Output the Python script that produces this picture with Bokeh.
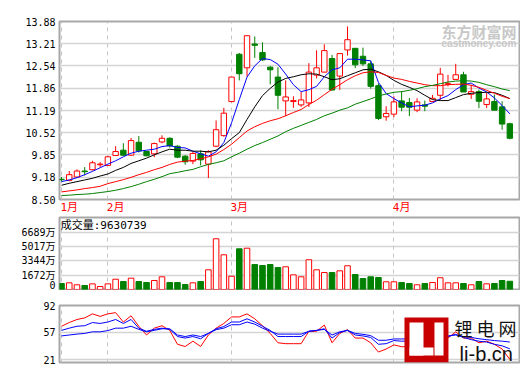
from bokeh.plotting import figure
from bokeh.layouts import column
from bokeh.models import FixedTicker, Label, Range1d, NumeralTickFormatter
from bokeh.embed import file_html
from bokeh.resources import INLINE

# ---------------- data ----------------
title_text = "沧州明珠[002108] 2014-04-23"
vol_header = "成交量:9630739"
month_ticks = [1, 7, 23, 44]
month_labels = ["1月", "2月", "3月", "4月"]
month_grid = [0, 6, 22, 43]
price_ticks = [8.50, 9.18, 9.85, 10.52, 11.19, 11.86, 12.54, 13.21, 13.88]
vol_ticks = [0, 1672, 3344, 5017, 6689]
vol_labels = ["0", "1672万", "3344万", "5017万", "6689万"]
rsi_ticks = [21, 57, 92]
ma_names = ["5PMA", "10PMA", "20PMA", "30PMA"]
ma_colors = ["#0000ff", "#000000", "#ff0000", "#008000"]
rsi_names = ["RSI_A:21", "RSI_B:35", "RSI_C:44"]
rsi_colors = ["#ff0000", "#0000ff", "#0000ff"]

open_ = [9.11, 9.08, 9.18, 9.36, 9.40, 9.55, 9.53, 9.83, 9.99, 9.84,
         10.23, 9.95, 9.88, 10.24, 10.35, 10.11, 9.81, 9.66, 9.88, 9.57,
         10.11, 10.43, 11.46, 12.89, 12.48, 13.20, 12.94, 12.50, 12.20, 11.48,
         11.46, 11.36, 11.42, 12.26, 12.35, 12.76, 12.23, 13.02, 13.07, 12.83,
         12.60, 11.94, 11.00, 11.08, 11.48, 11.43, 11.20, 11.36, 11.46, 11.65,
         11.98, 12.13, 12.27, 11.68, 11.76, 11.37, 11.46, 11.30, 10.79]
high = [9.18, 9.36, 9.41, 9.48, 9.67, 9.63, 9.82, 10.11, 10.20, 10.36,
        10.42, 9.97, 10.22, 10.44, 10.38, 10.14, 9.84, 9.94, 9.99, 9.99,
        10.89, 11.27, 12.20, 12.93, 13.45, 13.43, 13.25, 12.53, 12.50, 12.10,
        11.62, 11.75, 12.62, 13.01, 13.19, 12.87, 12.91, 13.73, 13.07, 13.09,
        12.70, 12.01, 11.32, 11.62, 11.77, 11.57, 11.56, 11.49, 11.66, 12.48,
        12.27, 12.60, 12.36, 11.97, 11.82, 11.72, 11.67, 11.47, 10.82]
low = [9.05, 9.05, 9.15, 9.23, 9.38, 9.48, 9.51, 9.83, 9.82, 9.82,
       9.92, 9.81, 9.78, 10.20, 10.07, 9.75, 9.55, 9.57, 9.53, 9.15,
       10.08, 10.40, 11.44, 12.10, 12.22, 12.78, 12.69, 11.98, 11.23, 11.02,
       11.27, 11.30, 11.30, 12.16, 12.35, 11.79, 11.81, 12.85, 12.47, 12.54,
       11.85, 10.90, 10.88, 10.99, 11.17, 11.02, 11.14, 11.17, 11.46, 11.50,
       11.92, 12.13, 11.75, 11.54, 11.26, 11.26, 11.20, 10.61, 10.32]
close = [9.10, 9.25, 9.36, 9.34, 9.61, 9.57, 9.79, 9.95, 9.84, 10.28,
         9.97, 9.82, 10.19, 10.35, 10.12, 9.78, 9.64, 9.89, 9.70, 9.94,
         10.61, 11.11, 12.20, 12.30, 13.45, 13.16, 12.72, 12.42, 11.65, 11.60,
         11.49, 11.51, 12.35, 12.48, 13.00, 11.81, 12.91, 13.33, 12.57, 12.60,
         11.92, 10.95, 11.10, 11.45, 11.29, 11.29, 11.45, 11.32, 11.56, 12.29,
         12.00, 12.27, 11.75, 11.76, 11.47, 11.54, 11.20, 10.78, 10.35]

ma5 = [9.04, 9.09, 9.16, 9.25, 9.35, 9.46, 9.57, 9.67, 9.79, 9.90,
       9.96, 9.99, 10.02, 10.10, 10.13, 10.07, 10.06, 9.96, 9.88, 9.81,
       9.94, 10.22, 10.82, 11.52, 12.20, 12.54, 12.76, 12.73, 12.59, 12.29,
       11.97, 11.76, 11.82, 11.92, 12.21, 12.42, 12.48, 12.74, 12.74, 12.72,
       12.69, 12.04, 11.70, 11.55, 11.42, 11.30, 11.33, 11.35, 11.42, 11.54,
       11.64, 11.82, 11.97, 12.02, 11.87, 11.75, 11.57, 11.34, 11.09]
ma10 = [8.93, 8.99, 9.04, 9.09, 9.14, 9.21, 9.27, 9.38, 9.47, 9.59,
        9.67, 9.75, 9.85, 9.94, 10.02, 9.99, 9.99, 9.96, 9.96, 9.94,
        9.99, 10.14, 10.34, 10.52, 10.92, 11.30, 11.64, 11.86, 12.05, 12.16,
        12.21, 12.27, 12.30, 12.29, 12.21, 12.12, 12.15, 12.24, 12.33, 12.42,
        12.44, 12.36, 12.25, 12.10, 11.98, 11.89, 11.79, 11.65, 11.52, 11.49,
        11.49, 11.58, 11.67, 11.71, 11.73, 11.74, 11.73, 11.65, 11.55]
ma20 = [8.73, 8.76, 8.79, 8.83, 8.86, 8.90, 8.98, 9.04, 9.10, 9.17,
        9.25, 9.32, 9.40, 9.47, 9.56, 9.63, 9.66, 9.68, 9.73, 9.79,
        9.87, 10.01, 10.17, 10.37, 10.57, 10.70, 10.80, 10.88, 10.94, 11.03,
        11.13, 11.22, 11.37, 11.50, 11.67, 11.83, 11.97, 12.12, 12.24, 12.33,
        12.36, 12.34, 12.25, 12.17, 12.13, 12.07, 12.02, 11.97, 11.94, 11.94,
        11.97, 11.98, 11.99, 11.95, 11.89, 11.80, 11.71, 11.62, 11.55]
ma30 = [8.62, 8.63, 8.65, 8.66, 8.68, 8.71, 8.74, 8.78, 8.83, 8.89,
        8.96, 9.04, 9.11, 9.19, 9.28, 9.32, 9.37, 9.41, 9.49, 9.56,
        9.61, 9.67, 9.79, 9.90, 10.02, 10.13, 10.22, 10.32, 10.42, 10.55,
        10.65, 10.74, 10.83, 10.92, 11.03, 11.11, 11.20, 11.27, 11.38, 11.46,
        11.54, 11.63, 11.69, 11.74, 11.76, 11.80, 11.85, 11.91, 11.95, 12.00,
        12.05, 12.08, 12.09, 12.08, 12.04, 11.97, 11.91, 11.84, 11.79]

volume = [700, 780, 550, 470, 660, 350, 660, 1200, 930, 1320,
          930, 820, 1050, 1480, 820, 820, 580, 780, 930, 2300,
          5920, 4050, 1550, 4750, 4820, 2920, 2800, 2920, 2570, 2650,
          1710, 1480, 3470, 2300, 1980, 1980, 2180, 2770, 1750, 1280,
          1480, 1400, 900, 900, 820, 700, 550, 700, 820, 1370,
          780, 780, 700, 550, 930, 660, 700, 1050, 963]

rsi_a = [64.7, 69.6, 73.6, 75.7, 81.0, 77.7, 81.0, 82.6, 70.3, 78.5,
         64.7, 53.2, 62.2, 65.4, 59.3, 41.0, 38.1, 45.1, 38.1, 53.2,
         62.2, 68.4, 77.0, 77.0, 81.0, 74.5, 65.4, 55.3, 43.0, 41.8,
         41.8, 41.8, 58.1, 58.1, 66.3, 43.0, 55.3, 60.2, 49.2, 49.2,
         43.0, 30.8, 34.8, 40.2, 37.8, 37.8, 41.0, 41.0, 45.1, 59.3,
         49.2, 57.4, 49.2, 49.2, 43.0, 45.1, 41.0, 34.8, 21.0]
rsi_b = [59.3, 62.2, 64.7, 65.4, 69.6, 68.4, 70.3, 73.6, 68.4, 73.6,
         62.2, 58.1, 60.6, 62.2, 60.6, 51.2, 49.2, 51.2, 48.3, 55.3,
         61.4, 64.3, 70.3, 70.3, 74.5, 70.3, 64.7, 59.3, 51.2, 51.2,
         51.2, 51.2, 58.1, 59.3, 61.4, 49.2, 56.5, 59.3, 53.2, 52.0,
         50.0, 41.0, 41.8, 45.9, 45.1, 45.1, 45.9, 45.9, 48.0, 53.2,
         51.2, 54.1, 50.0, 47.1, 45.1, 43.9, 41.0, 39.0, 35.0]
rsi_c = [52.0, 53.2, 54.4, 55.3, 57.4, 57.4, 59.0, 62.2, 62.2, 64.7,
         60.6, 57.4, 59.3, 61.4, 61.4, 53.2, 51.2, 53.2, 51.2, 55.3,
         60.2, 62.2, 66.7, 66.7, 70.3, 67.5, 62.2, 58.1, 54.4, 54.4,
         54.4, 54.4, 58.1, 59.3, 60.6, 53.2, 57.4, 59.3, 55.3, 54.1,
         52.4, 46.3, 46.3, 48.0, 48.0, 48.0, 48.0, 48.0, 50.0, 53.2,
         52.0, 53.2, 51.2, 50.0, 48.3, 47.1, 45.9, 45.1, 44.0]

# ---------------- styling ----------------
RED = "#ff0000"
GREEN = "#008000"
MONO = "DejaVu Sans Mono, Noto Sans CJK SC"
CJK = "Noto Sans CJK SC"
W = 520

n = len(close)
xs = list(range(n))
up = [c >= o for o, c in zip(open_, close)]
col = [RED if u else GREEN for u in up]
fill = ["#ffffff" if u else GREEN for u in up]
tops = [max(o, c) for o, c in zip(open_, close)]
bots = [min(o, c) for o, c in zip(open_, close)]

XR = Range1d(-0.26, 59.25)


def make(h, y0, y1, top, bottom):
    p = figure(width=W, height=h, x_range=XR, y_range=Range1d(y0, y1),
               output_backend="svg", toolbar_location=None,
               min_border_left=59, min_border_right=1,
               min_border_top=top, min_border_bottom=bottom)
    p.outline_line_color = "#a8a8a8"
    p.outline_line_width = 2
    p.background_fill_color = "white"
    p.border_fill_color = "white"
    p.ygrid.grid_line_color = "#d4d4d4"
    p.ygrid.grid_line_width = 1.5
    p.xgrid.ticker = FixedTicker(ticks=month_grid)
    p.xgrid.grid_line_color = "#c4c4c4"
    p.xgrid.grid_line_dash = "4 4"
    p.xgrid.grid_line_width = 1
    p.yaxis.axis_line_color = None
    p.yaxis.major_tick_line_color = None
    p.yaxis.minor_tick_line_color = None
    p.yaxis.major_tick_out = 0
    p.yaxis.major_tick_in = 0
    p.yaxis.major_label_standoff = 4
    p.yaxis.major_label_text_font = MONO
    p.yaxis.major_label_text_font_size = "10px"
    p.yaxis.major_label_text_color = "#000000"
    return p


# ---------------- main price panel ----------------
p1 = make(216, 8.50, 13.88, 21, 15)
p1.yaxis.ticker = FixedTicker(ticks=price_ticks)
p1.yaxis.formatter = NumeralTickFormatter(format="0.00")
p1.xaxis.ticker = FixedTicker(ticks=month_ticks)
p1.xaxis.major_label_overrides = {t: l for t, l in zip(month_ticks, month_labels)}
p1.xaxis.axis_line_color = None
p1.xaxis.major_tick_line_color = None
p1.xaxis.minor_tick_line_color = None
p1.xaxis.major_tick_out = 0
p1.xaxis.major_tick_in = 0
p1.xaxis.major_label_standoff = 1
p1.xaxis.major_label_text_color = RED
p1.xaxis.major_label_text_font = MONO
p1.xaxis.major_label_text_font_size = "11px"

p1.segment(x0=xs, y0=low, x1=xs, y1=high, line_color=col, line_width=1)
p1.vbar(x=xs, top=tops, bottom=bots, width=0.7, fill_color=fill, line_color=col, line_width=1)
for vals, c in zip([ma5, ma10, ma20, ma30], ma_colors):
    p1.line(xs, vals, line_color=c, line_width=1)

p1.add_layout(Label(x=0.1, y=14.09, text=title_text, text_font=MONO, text_font_size="11px",
                    text_color="#000000", text_baseline="middle"))
name_x = [34.93, 40.49, 46.57, 52.91]
mark_x = [38.88, 45.21, 51.36, 57.57]
for nm, c, nx, mx in zip(ma_names, ma_colors, name_x, mark_x):
    p1.add_layout(Label(x=nx, y=14.07, text=nm, text_font=MONO, text_font_size="10px",
                        text_color="#000000", text_baseline="middle"))
    p1.add_layout(Label(x=mx, y=14.07, text="▬", text_font="DejaVu Sans", text_font_size="9px",
                        text_color=c, text_baseline="middle", text_align="center"))
p1.add_layout(Label(x=49.16, y=13.58, text="东方财富网", text_font=CJK, text_font_size="15px",
                    text_font_style="bold", text_color="#c8c8c8", text_baseline="middle"))
p1.add_layout(Label(x=49.16, y=13.21, text="eastmoney.com", text_font="Liberation Sans",
                    text_font_size="10px", text_font_style="bold", text_color="#c8c8c8",
                    text_baseline="middle"))

# ---------------- volume panel ----------------
p2 = make(74, 0, 8405, 1, 1)
p2.xaxis.visible = False
p2.yaxis.ticker = FixedTicker(ticks=vol_ticks)
p2.yaxis.major_label_overrides = {t: l for t, l in zip(vol_ticks, vol_labels)}
p2.vbar(x=xs, top=volume, bottom=0, width=0.72, fill_color=fill, line_color=col, line_width=1)
p2.add_layout(Label(x=-0.1, y=7527, text=vol_header, text_font=MONO, text_font_size="11px",
                    text_color="#000000", text_baseline="middle"))

# ---------------- RSI panel ----------------
p3 = make(75, 17.06, 92, 15, 3)
p3.xaxis.visible = False
p3.yaxis.ticker = FixedTicker(ticks=rsi_ticks)
for vals, c in zip([rsi_a, rsi_b, rsi_c], rsi_colors):
    p3.line(xs, vals, line_color=c, line_width=1)
for nm, c, lx in zip(rsi_names, rsi_colors, [-0.13, 6.73, 13.71]):
    p3.add_layout(Label(x=lx, y=101.2, text=nm, text_font=MONO, text_font_size="10px",
                        text_color=c, text_baseline="middle"))
# li-b.cn watermark
p3.quad(left=[44.37], right=[50.06], top=[76.2], bottom=[17.06], fill_color="#c80000", line_color=None)
p3.quad(left=[45.02, 45.02, 48.25], right=[46.83, 48.12, 49.42], top=[69.6, 36.8, 69.6],
        bottom=[26.3, 26.3, 26.3], fill_color="#ffffff", line_color=None)
p3.add_layout(Label(x=50.84, y=63.0, text="锂 电 网", text_font=CJK, text_font_size="18px",
                    text_color="#111111", text_baseline="middle"))
p3.add_layout(Label(x=51.5, y=28.5, text="li-b.cn", text_font="Liberation Sans", text_font_size="20px",
                    text_color="#111111", text_baseline="alphabetic"))

layout = column(p1, p2, p3, spacing=0)
open("out.html", "w").write(file_html(layout, INLINE))
